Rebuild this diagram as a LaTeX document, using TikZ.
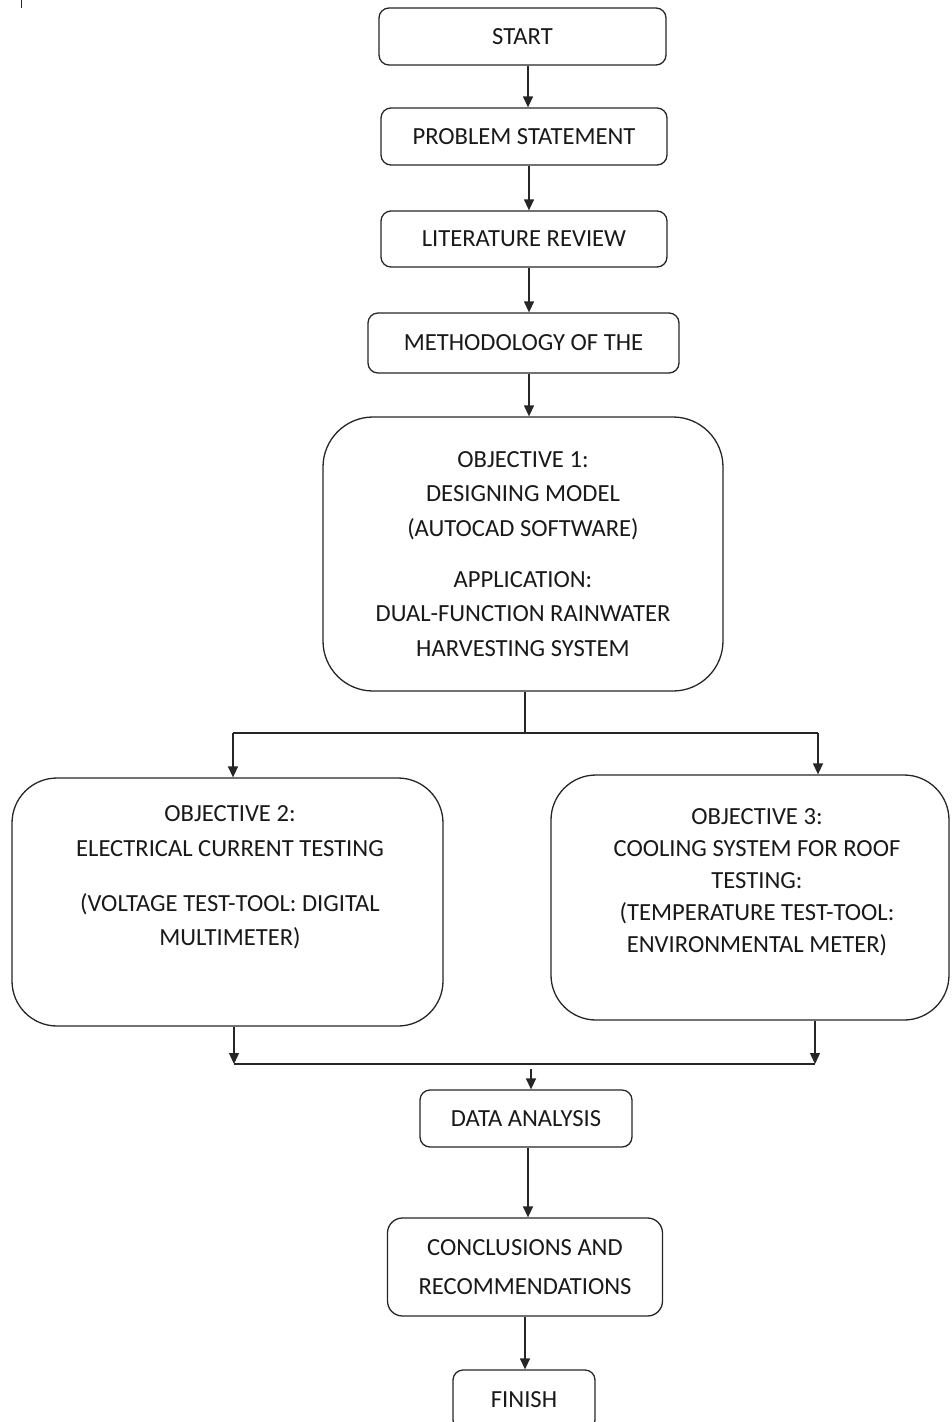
\documentclass[tikz,border=0pt]{standalone}
\usepackage{fontspec}
\setmainfont{Carlito}
\usetikzlibrary{arrows.meta,calc}
\begin{document}
\begin{tikzpicture}[x=1pt,y=-1pt,
  every node/.style={font=\fontsize{24.6}{34.5}\selectfont, text=black!90, align=center, inner sep=0pt},
  box/.style={draw=black!85, line width=1.3pt, rounded corners=#1},
  box/.default=10pt,
  arr/.style={draw=black!85, line width=1.3pt, -{Triangle[length=11pt,width=10pt]}},
  ln/.style={draw=black!85, line width=1.3pt}]
\useasboundingbox (0,0) rectangle (952,1422);
\clip (0,0) rectangle (952,1422);
% stray tick top-left
\coordinate (t1) at (21,0);
\coordinate (t2) at (21,8);
\draw[ln, line width=1pt] (t1) -- (t2);

\node[box, minimum width=287pt, minimum height=57pt] (start) at (522.5,36.5) {START};
\node[box, minimum width=286pt, minimum height=57pt] (prob) at (524,136.5) {PROBLEM STATEMENT};
\node[box, minimum width=286pt, minimum height=56pt] (lit) at (524,239) {LITERATURE REVIEW};
\node[box, minimum width=311pt, minimum height=60pt] (meth) at (523.5,343) {METHODOLOGY OF THE};
\node[box=50pt, minimum width=400pt, minimum height=274pt] (obj1) at (523,554) {OBJECTIVE 1:\\ DESIGNING MODEL\\ (AUTOCAD SOFTWARE)\\[16.5pt] APPLICATION:\\ DUAL-FUNCTION RAINWATER\\ HARVESTING SYSTEM};

\node[box=45pt, minimum width=431pt, minimum height=248pt] (obj2) at (227.5,902) {};
\node (obj2t) at (230,877.5) {OBJECTIVE 2:\\ ELECTRICAL CURRENT TESTING\\[20.5pt] (VOLTAGE TEST-TOOL: DIGITAL\\ MULTIMETER)};

\node[box=45pt, minimum width=398pt, minimum height=245pt] (obj3) at (750,897.5) {};
\node[font=\fontsize{24.6}{32}\selectfont] (obj3t) at (757,882) {OBJECTIVE 3:\\ COOLING SYSTEM FOR ROOF\\ TESTING:\\ (TEMPERATURE TEST-TOOL:\\ ENVIRONMENTAL METER)};

\node[box, minimum width=212pt, minimum height=57pt] (data) at (526,1118.5) {DATA ANALYSIS};
\node[box=15pt, minimum width=275pt, minimum height=98pt, font=\fontsize{24.6}{39}\selectfont] (concl) at (525,1267) {CONCLUSIONS AND\\ RECOMMENDATIONS};
\node[box, minimum width=142pt, minimum height=60pt] (finish) at (524,1400) {FINISH};

% main chain
\draw[arr] ([xshift=5.5pt]start.south) -- ([xshift=5.5pt]start.south |- prob.north);
\draw[arr] ([xshift=5pt]prob.south) -- ([xshift=5pt]prob.south |- lit.north);
\draw[arr] ([xshift=5pt]lit.south) -- ([xshift=5pt]lit.south |- meth.north);
\draw[arr] ([xshift=5.5pt]meth.south) -- ([xshift=5.5pt]meth.south |- obj1.north);

% split
\coordinate (bl) at (233,733);
\coordinate (br) at (818,733);
\draw[ln] ([xshift=2pt]obj1.south) -- ([xshift=2pt]obj1.south |- bl);
\draw[ln] (bl) -- (br);
\draw[arr] (bl) -- (bl |- obj2.north);
\draw[arr] (br) -- (br |- obj3.north);

% merge
\coordinate (ml) at (234,1064);
\coordinate (mr) at (815,1064);
\coordinate (mm) at (531,1069);
\draw[arr] (obj2.south -| ml) -- (ml);
\draw[arr] (obj3.south -| mr) -- (mr);
\draw[ln] (ml) -- (mr);
\draw[arr] (mm) -- (mm |- data.north);

\draw[arr] ([xshift=2pt]data.south) -- ([xshift=2pt]data.south |- concl.north);
\draw[arr] (concl.south) -- (concl.south |- finish.north);
\end{tikzpicture}
\end{document}
